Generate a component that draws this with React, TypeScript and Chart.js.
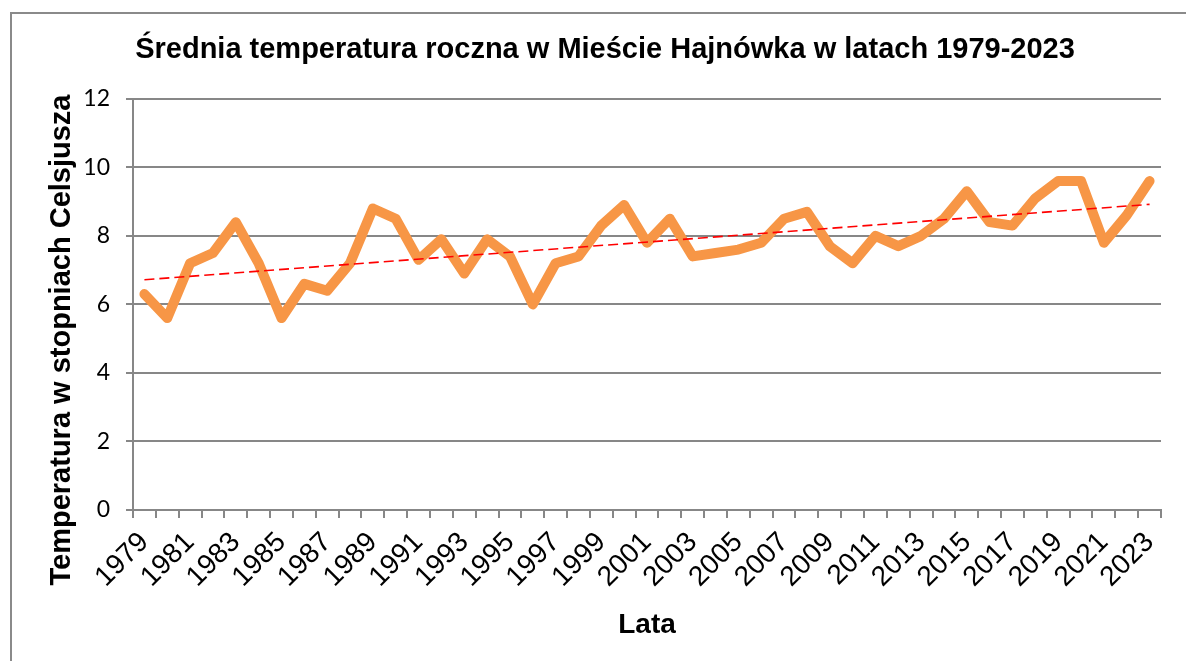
import React, { useEffect, useRef } from "react";
import { Chart, registerables } from "chart.js";

Chart.register(...registerables);

const TITLE = "Średnia temperatura roczna w Mieście Hajnówka w latach 1979-2023";
const Y_TITLE = "Temperatura w stopniach Celsjusza";
const X_TITLE = "Lata";

const years: string[] = [
  "1979", "1980", "1981", "1982", "1983", "1984", "1985", "1986", "1987", "1988",
  "1989", "1990", "1991", "1992", "1993", "1994", "1995", "1996", "1997", "1998",
  "1999", "2000", "2001", "2002", "2003", "2004", "2005", "2006", "2007", "2008",
  "2009", "2010", "2011", "2012", "2013", "2014", "2015", "2016", "2017", "2018",
  "2019", "2020", "2021", "2022", "2023",
];

const temperatures: number[] = [
  6.3, 5.6, 7.2, 7.5, 8.4, 7.2, 5.6, 6.6, 6.4, 7.2,
  8.8, 8.5, 7.3, 7.9, 6.9, 7.9, 7.4, 6.0, 7.2, 7.4,
  8.3, 8.9, 7.8, 8.5, 7.4, 7.5, 7.6, 7.8, 8.5, 8.7,
  7.7, 7.2, 8.0, 7.7, 8.0, 8.5, 9.3, 8.4, 8.3, 9.1,
  9.6, 9.6, 7.8, 8.6, 9.6,
];

// trend line values at first and last year
const trendEnds: number[] = [6.72, 8.92];

const yTicks: number[] = [0, 2, 4, 6, 8, 10, 12];

export default function App() {
  const canvasRef = useRef<HTMLCanvasElement | null>(null);

  useEffect(() => {
    document.body.style.margin = "0";
    const canvas = canvasRef.current;
    if (!canvas) return;

    const trendData: (number | null)[] = years.map((_, i) =>
      i === 0 ? trendEnds[0] : i === years.length - 1 ? trendEnds[1] : null
    );

    const yTitlePlugin = {
      id: "yTitlePlugin",
      afterDraw(chart: any) {
        const ctx = chart.ctx;
        ctx.save();
        ctx.translate(62, 340);
        ctx.rotate(-Math.PI / 2);
        ctx.font = "bold 29px 'Liberation Sans', Arial, sans-serif";
        ctx.fillStyle = "#000";
        ctx.textAlign = "center";
        ctx.textBaseline = "middle";
        ctx.fillText(Y_TITLE, 0, 0);
        ctx.restore();
      },
    };

    const gridColor = "#878787";

    const chart = new Chart(canvas, {
      type: "line",
      data: {
        labels: years,
        datasets: [
          {
            label: "Temperatura",
            data: temperatures,
            borderColor: "#F79646",
            backgroundColor: "#F79646",
            borderWidth: 10,
            pointRadius: 0,
            tension: 0,
            borderJoinStyle: "round",
            borderCapStyle: "round",
            order: 2,
          },
          {
            label: "Trend",
            data: trendData,
            borderColor: "#FF0000",
            borderWidth: 1.6,
            borderDash: [10, 5],
            pointRadius: 0,
            spanGaps: true,
            tension: 0,
            order: 1,
          },
        ],
      },
      options: {
        animation: false,
        responsive: false,
        maintainAspectRatio: false,
        layout: { padding: { left: 49, right: 25, top: 0, bottom: 0 } },
        plugins: {
          legend: { display: false },
          tooltip: { enabled: false },
          title: {
            display: true,
            text: TITLE,
            color: "#000",
            font: { family: "'Liberation Sans', Arial, sans-serif", size: 29, weight: "bold" },
            padding: { top: 33, bottom: 31 },
          },
        },
        scales: {
          x: {
            type: "category",
            offset: true,
            afterFit(scale: any) {
              scale.height = 151;
            },
            grid: {
              display: true,
              offset: true,
              drawOnChartArea: false,
              drawTicks: true,
              tickLength: 8,
              color: gridColor,
              lineWidth: 2,
            },
            border: { display: true, color: gridColor, width: 2 },
            ticks: {
              autoSkip: false,
              maxRotation: 45,
              minRotation: 45,
              padding: 8,
              color: "#000",
              font: { family: "'Liberation Sans', Arial, sans-serif", size: 28 },
              callback(_v: any, i: number) {
                return i % 2 === 0 ? years[i] : "";
              },
            },
            title: {
              display: true,
              text: X_TITLE,
              color: "#000",
              font: { family: "'Liberation Sans', Arial, sans-serif", size: 28, weight: "bold" },
              padding: { top: 0, bottom: 19 },
            },
          },
          y: {
            min: 0,
            max: 12,
            afterFit(scale: any) {
              scale.width = 84;
            },
            afterBuildTicks(scale: any) {
              scale.ticks = yTicks.map((v) => ({ value: v }));
            },
            grid: {
              color: gridColor,
              lineWidth: 2,
              drawTicks: true,
              tickLength: 7,
            },
            border: { display: true, color: gridColor, width: 2 },
            ticks: {
              padding: 16,
              color: "#000",
              font: { family: "Lato, 'Open Sans', sans-serif", size: 23 },
            },
          },
        },
      },
      plugins: [yTitlePlugin],
    });

    return () => chart.destroy();
  }, []);

  return (
    <div style={{ position: "relative", width: 1186, height: 661, overflow: "hidden", background: "#fff" }}>
      <div
        style={{
          position: "absolute",
          left: 10,
          top: 12,
          width: 2000,
          height: 1000,
          borderTop: "2px solid #8a8a8a",
          borderLeft: "2px solid #8a8a8a",
        }}
      />
      <canvas
        ref={canvasRef}
        width={1186}
        height={661}
        style={{ position: "absolute", left: 0, top: 0, width: 1186, height: 661 }}
      />
    </div>
  );
}
